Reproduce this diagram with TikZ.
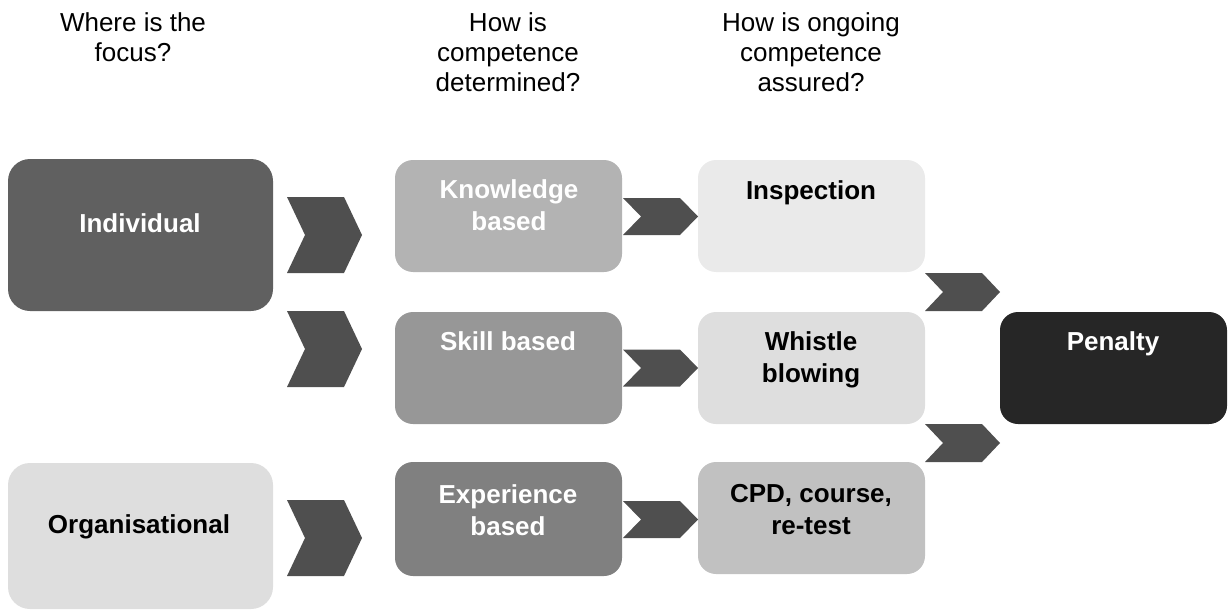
\documentclass[tikz,border=0pt]{standalone}
\usepackage{fontspec}
\setmainfont{Liberation Sans}
\definecolor{cInd}{HTML}{606060}
\definecolor{cOrg}{HTML}{DEDEDE}
\definecolor{cKno}{HTML}{B3B3B3}
\definecolor{cSki}{HTML}{979797}
\definecolor{cExp}{HTML}{808080}
\definecolor{cIns}{HTML}{EAEAEA}
\definecolor{cWhi}{HTML}{DEDEDE}
\definecolor{cCpd}{HTML}{C1C1C1}
\definecolor{cPen}{HTML}{262626}
\definecolor{cChev}{HTML}{4F4F4F}
\newcommand\chevshape[3]{% x, y(top), height
  \fill[chev] (#1,#2) -- ({#1+57},#2) -- ({#1+75},{#2+#3/2}) -- ({#1+57},{#2+#3}) -- (#1,{#2+#3}) -- ({#1+18},{#2+#3/2}) -- cycle;}
\begin{document}
\begin{tikzpicture}[x=1pt,y=-1pt,
  box/.style={draw=none, rounded corners=18pt, inner sep=0pt},
  bigbox/.style={box, rounded corners=22pt},
  hdr/.style={font=\fontsize{26}{30}\selectfont, align=center, anchor=base, inner sep=0pt},
  lbl/.style={font=\bfseries\fontsize{26}{32}\selectfont, align=center, anchor=base, inner sep=0pt},
  wlbl/.style={lbl, text=white},
  chev/.style={fill=cChev}]
\useasboundingbox (0,0) rectangle (1229,610);

% headers (anchor = baseline of last line)
\node[hdr] (h1) at (133,62) {Where is the\\focus?};
\node[hdr] (h2) at (508,92) {How is\\competence\\determined?};
\node[hdr] (h3) at (811,92) {How is ongoing\\competence\\assured?};

% column 1
\node[bigbox, fill=cInd, minimum width=265pt, minimum height=152pt] (ind) at (140.5,235) {};
\node[bigbox, fill=cOrg, minimum width=265pt, minimum height=146pt] (org) at (140.5,536) {};
\node[wlbl] (tind) at (140,232) {Individual};
\node[lbl] (torg) at (139,533) {Organisational};

% column 2
\node[box, fill=cKno, minimum width=227pt, minimum height=112pt] (kno) at (508.5,216) {};
\node[box, fill=cSki, minimum width=227pt, minimum height=112pt] (ski) at (508.5,368) {};
\node[box, fill=cExp, minimum width=227pt, minimum height=114pt] (exp) at (508.5,519) {};
\node[wlbl] (tkno) at (509,230) {Knowledge\\based};
\node[wlbl] (tski) at (508,350) {Skill based};
\node[wlbl] (texp) at (508,535) {Experience\\based};

% column 3
\node[box, fill=cIns, minimum width=227pt, minimum height=112pt] (ins) at (811.5,216) {};
\node[box, fill=cWhi, minimum width=227pt, minimum height=112pt] (whi) at (811.5,368) {};
\node[box, fill=cCpd, minimum width=227pt, minimum height=112pt] (cpd) at (811.5,518) {};
\node[lbl] (tins) at (811,199) {Inspection};
\node[lbl] (twhi) at (811,382) {Whistle\\blowing};
\node[lbl] (tcpd) at (811,534) {CPD, course,\\re-test};

% column 4
\node[box, fill=cPen, minimum width=227pt, minimum height=112pt] (pen) at (1113.5,368) {};
\node[wlbl] (tpen) at (1113,350) {Penalty};

% chevrons
\chevshape{287}{197}{76}
\chevshape{287}{311}{76}
\chevshape{287}{500}{76}
\chevshape{623}{198}{37}
\chevshape{623}{349.5}{37}
\chevshape{623}{501}{37}
\chevshape{925}{273}{38}
\chevshape{925}{424}{38}
\end{tikzpicture}
\end{document}
